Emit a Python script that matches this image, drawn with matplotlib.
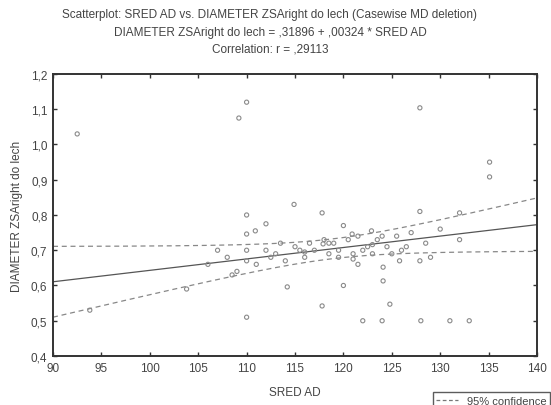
import numpy as np
import matplotlib
matplotlib.use("Agg")
import matplotlib.pyplot as plt
from matplotlib.lines import Line2D

plt.rcParams['font.family'] = ['Liberation Sans', 'DejaVu Sans']

title_lines = ["Scatterplot: SRED AD vs. DIAMETER ZSAright do lech (Casewise MD deletion)",
               "DIAMETER ZSAright do lech = ,31896 + ,00324 * SRED AD",
               "Correlation: r = ,29113"]
x_label = "SRED AD"
y_label = "DIAMETER ZSAright do lech"
legend_label = "95% confidence"

intercept = 0.31896
slope = 0.00324

sred_ad = [92.5, 109.2, 110.0, 103.8, 110.0, 110.0, 110.9, 112.0, 114.9, 117.8,
           120.0, 120.9, 122.9, 127.9, 135.1, 135.1, 127.9, 132.0, 110.0, 116.0,
           117.9, 117.8, 120.0, 114.2, 110.0, 121.0, 122.0, 123.0, 124.1, 124.1,
           124.8, 125.8, 127.9, 122.0, 124.0, 128.0, 131.0, 133.0, 107.0, 108.5,
           93.8, 113.0, 115.5, 118.5, 119.5, 121.5, 123.5, 125.0, 126.5, 129.0,
           106.0, 108.0, 109.0, 110.0, 111.0, 112.0, 112.5, 113.5, 114.0, 115.0,
           116.0, 116.5, 117.0, 118.0, 118.5, 119.0, 119.5, 120.5, 121.0, 121.5,
           122.5, 123.0, 124.0, 124.5, 125.5, 126.0, 127.0, 128.5, 130.0, 132.0]
diameter = [1.03, 1.075, 1.12, 0.59, 0.80, 0.746, 0.755, 0.775, 0.83, 0.806,
            0.77, 0.746, 0.755, 1.104, 0.95, 0.908, 0.81, 0.806, 0.67, 0.695,
            0.718, 0.542, 0.60, 0.596, 0.51, 0.675, 0.70, 0.716, 0.652, 0.613,
            0.547, 0.67, 0.67, 0.50, 0.50, 0.50, 0.50, 0.50, 0.70, 0.63,
            0.53, 0.69, 0.70, 0.72, 0.68, 0.66, 0.73, 0.69, 0.71, 0.68,
            0.66, 0.68, 0.64, 0.70, 0.66, 0.70, 0.68, 0.72, 0.67, 0.71,
            0.68, 0.72, 0.70, 0.73, 0.69, 0.72, 0.70, 0.73, 0.69, 0.74,
            0.71, 0.69, 0.74, 0.71, 0.74, 0.70, 0.75, 0.72, 0.76, 0.73]

x_ticks = [90, 95, 100, 105, 110, 115, 120, 125, 130, 135, 140]
y_ticks = [0.4, 0.5, 0.6, 0.7, 0.8, 0.9, 1.0, 1.1, 1.2]
y_tick_labels = ["0,4", "0,5", "0,6", "0,7", "0,8", "0,9", "1,0", "1,1", "1,2"]

x = np.array(sred_ad)
y = np.array(diameter)
n = len(x)
resid = y - (intercept + slope * x)
s = np.sqrt(np.sum(resid ** 2) / (n - 2))
xm = x.mean()
sxx = np.sum((x - xm) ** 2)
t = 1.99

xs = np.linspace(90, 140, 200)
fit = intercept + slope * xs
w = t * s * np.sqrt(1.0 / n + (xs - xm) ** 2 / sxx)

fig = plt.figure(figsize=(5.51, 4.06), dpi=100)
ax = fig.add_axes([0.0962, 0.1207, 0.8784, 0.6946])

ax.scatter(x, y, s=9, facecolors='none', edgecolors='#8a8a8a', linewidths=0.8, zorder=3)
ax.plot(xs, fit, color='#555555', lw=0.9, zorder=2)
ax.plot(xs, fit + w, color='#888888', lw=0.9, ls=(0, (4, 3)), zorder=2)
ax.plot(xs, fit - w, color='#888888', lw=0.9, ls=(0, (4, 3)), zorder=2)

ax.set_xlim(90, 140)
ax.set_ylim(0.4, 1.2)
ax.set_xticks(x_ticks)
ax.set_xticklabels([str(v) for v in x_ticks])
ax.set_yticks(y_ticks)
ax.set_yticklabels(y_tick_labels)
ax.tick_params(direction='in', length=3, width=1.0, top=True, right=True,
               labelsize=8.5, colors='#333333', labelcolor='#444444', pad=4)
for sp in ax.spines.values():
    sp.set_linewidth(1.4)
    sp.set_color('#333333')

ax.set_xlabel(x_label, fontsize=8.5, color='#444444', labelpad=9)
ax.set_ylabel(y_label, fontsize=8.5, color='#444444', labelpad=6)

fig.text(0.49, 1 - 15 / 406, title_lines[0], ha='center', va='center', fontsize=8.5, color='#444444')
fig.text(0.49, 1 - 33 / 406, title_lines[1], ha='center', va='center', fontsize=8.5, color='#444444')
fig.text(0.49, 1 - 50 / 406, title_lines[2], ha='center', va='center', fontsize=8.5, color='#444444')

handle = Line2D([0], [0], color='#777777', lw=0.9, ls=(0, (3, 2)))
fig.legend([handle], [legend_label], loc='upper left', bbox_to_anchor=(0.775, 0.045),
           fontsize=8, frameon=True, fancybox=False, edgecolor='#333333',
           handlelength=2.0, borderpad=0.3, labelcolor='#444444')

fig.savefig("out.png", dpi=100)
